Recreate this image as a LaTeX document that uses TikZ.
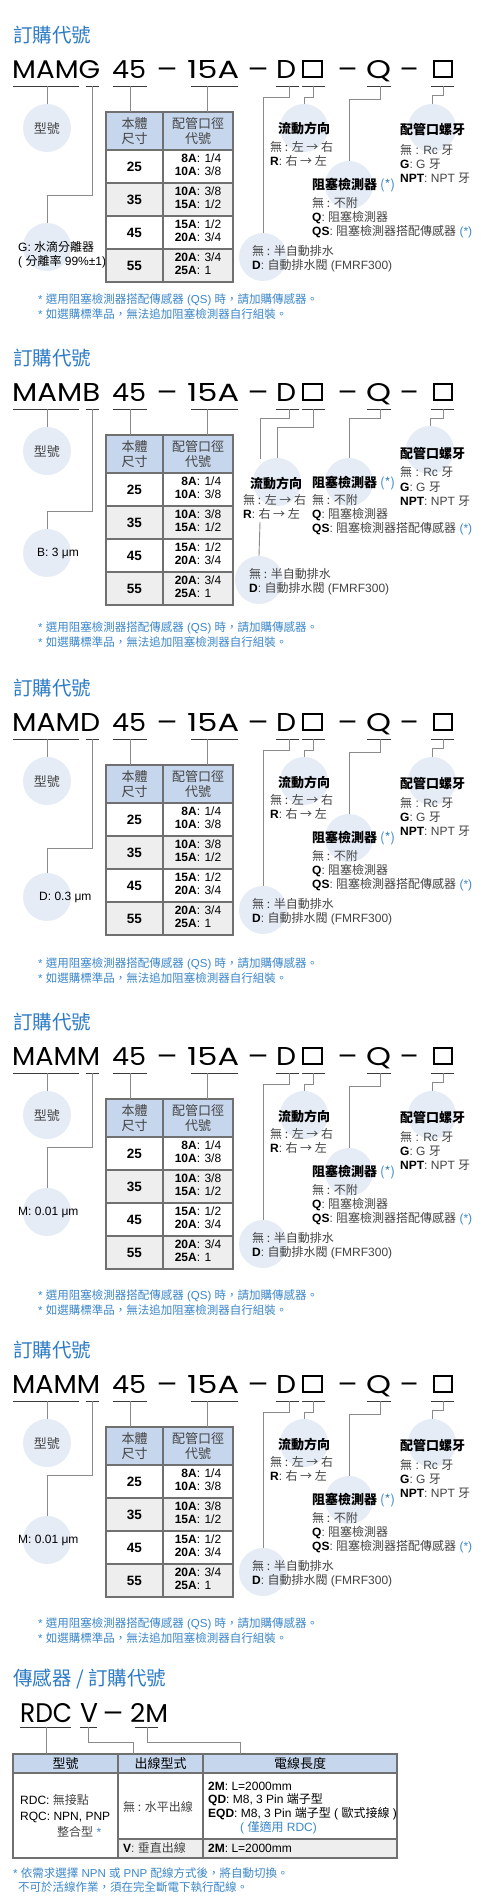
\documentclass[tikz,border=0pt]{standalone}
\usepackage{fontspec}
\setmainfont{Liberation Sans}
\newfontfamily\cjk{Noto Sans CJK TC}
\newfontfamily\codefont{Poppins}
\newcommand\zh[1]{{\cjk #1}}
\newcommand\kb[1]{\textcolor{black}{\bfseries #1}}
\newcommand\fitw[3]{\resizebox{#1pt}{#2pt}{#3}}
\newcommand\dashw[1]{\resizebox{#1pt}{\height}{—}}
\definecolor{ttlblue}{HTML}{2C7BC4}
\definecolor{noteblue}{HTML}{3C87C9}
\definecolor{bubble}{HTML}{E6ECF6}
\definecolor{hdfill}{HTML}{C6D6EC}
\definecolor{rowgray}{HTML}{EEEEEE}
\definecolor{lgray}{HTML}{8A8A8A}
\definecolor{ugray}{HTML}{3A3A3A}
\definecolor{tgray}{HTML}{444444}
\definecolor{tborder}{HTML}{707070}
\tikzset{
  ttl/.style={anchor=west, inner sep=0, text=ttlblue, font=\cjk\fontsize{19.5}{22}\selectfont},
  code/.style={anchor=base west, inner sep=0, font=\codefont\fontsize{26}{28}\selectfont},
  codebox/.style={draw=black, line width=1.9pt, minimum width=18.5pt, minimum height=16.5pt, inner sep=0},
  uline/.style={draw=ugray, line width=0.9pt},
  conn/.style={draw=lgray, line width=0.9pt},
  bub/.style={circle, fill=bubble, minimum size=48pt, inner sep=0},
  lbl/.style={anchor=west, inner sep=0, align=left, text=tgray, font=\fontsize{12}{14.2}\selectfont},
  hd/.style={inner sep=0, text=black, font=\cjk\bfseries\fontsize{13}{15}\selectfont},
  hdw/.style={hd, anchor=west},
  note/.style={anchor=west, inner sep=0, align=left, text=noteblue, font=\fontsize{11.5}{14}\selectfont},
  cell/.style={inner sep=0, text=black, font=\fontsize{12}{13.5}\selectfont},
  tbl/.style={draw=tborder, line width=1.2pt},
}
% left part: #1 pfx, #2 yoffset, #3 word, #4 label, #5 label x, #6 label y, #7 elbow y, #8 circle y, #9 foot y
\newcommand\leftpart[9]{%
\begin{scope}[yshift=-#2pt]
\node[ttl] (#1title) at (13,35) {訂購代號};
\node[code] (#1w) at (12,78) {\fitw{88}{18}{#3}};
\node[code] (#1n) at (112,78) {\fitw{34}{18}{45}};
\node[code] (#1da) at (157,78) {\dashw{20}};
\node[code] (#1s) at (187,78) {\fitw{52}{18}{15A}};
\node[code] (#1db) at (248,78) {\dashw{20}};
\node[code] (#1D) at (276,78) {\fitw{20}{18}{D}};
\node[codebox] (#1b1) at (312.5,69) {};
\node[code] (#1dc) at (338,78) {\dashw{19}};
\node[code] (#1Q) at (366,78) {\fitw{25}{18}{Q}};
\node[code] (#1dd) at (400,78) {\dashw{18}};
\node[codebox] (#1b2) at (443,69) {};
\foreach \a/\b in {13/79,86/99,113/147,191/238,276/299,302/325,367/391,431/454}
  \draw[uline] (\a,86) -- (\b,86);
\node[bub] (#1mb) at (47,128) {};
\node[bub] (#1sb) at (47,#8) {};
\draw[conn] (47,86) -- (#1mb.north);
\draw[conn] (92,86) |- (47,#7) -- (#1sb.north);
\node[inner sep=0, text=tgray, font=\cjk\fontsize{13}{15}\selectfont] (#1mt) at (47,129) {型號};
\node[lbl, text=black] (#1st) at (#5,#6) {#4};
% table
\fill[hdfill] (106,112) rectangle (233,150);
\fill[rowgray] (106,183) rectangle (233,216);
\fill[rowgray] (106,249) rectangle (233,282);
\draw[tbl] (106,112) rectangle (233,282);
\draw[tbl] (163,112) -- (163,282);
\foreach \y in {150,183,216,249} \draw[tbl] (106,\y) -- (233,\y);
\coordinate (#1tA) at (130,112);
\coordinate (#1tB) at (207,112);
\draw[conn] (130,86) -- (#1tA);
\draw[conn] (207,86) -- (#1tB);
\node[cell, align=center, text=tgray, font=\cjk\fontsize{13}{15}\selectfont] (#1h1) at (134.5,131) {本體\\尺寸};
\node[cell, align=center, text=tgray, font=\cjk\fontsize{13}{15}\selectfont] (#1h2) at (198,131) {配管口徑\\代號};
\node[cell, font=\bfseries\fontsize{13.5}{15}\selectfont] (#1r1) at (134.5,166.5) {25};
\node[cell, font=\bfseries\fontsize{13.5}{15}\selectfont] (#1r2) at (134.5,199.5) {35};
\node[cell, font=\bfseries\fontsize{13.5}{15}\selectfont] (#1r3) at (134.5,232.5) {45};
\node[cell, font=\bfseries\fontsize{13.5}{15}\selectfont] (#1r4) at (134.5,265.5) {55};
\node[cell] (#1p1) at (198,166.5) {\begin{tabular}{@{}r@{}l@{}}\textbf{8A}&: 1/4\\\textbf{10A}&: 3/8\end{tabular}};
\node[cell] (#1p2) at (198,199.5) {\begin{tabular}{@{}r@{}l@{}}\textbf{10A}&: 3/8\\\textbf{15A}&: 1/2\end{tabular}};
\node[cell] (#1p3) at (198,232.5) {\begin{tabular}{@{}r@{}l@{}}\textbf{15A}&: 1/2\\\textbf{20A}&: 3/4\end{tabular}};
\node[cell] (#1p4) at (198,265.5) {\begin{tabular}{@{}r@{}l@{}}\textbf{20A}&: 3/4\\\textbf{25A}&: 1\end{tabular}};
\node[note] (#1f1) at (38,#9) {* \zh{選用阻塞檢測器搭配傳感器} (QS) \zh{時，請加購傳感器。}};
\node[note] (#1f2) at (38,#9+14) {* \zh{如選購標準品，無法追加阻塞檢測器自行組裝。}};
\end{scope}}
\newcommand\flowtext{\zh{無 : 左 → 右}\\\kb{R}: \zh{右 → 左}}
\newcommand\threadtext{\zh{無} : Rc \zh{牙}\\\kb{G}: G \zh{牙}\\\kb{NPT}: NPT \zh{牙}}
\newcommand\blocktext{\zh{無 : 不附}\\\kb{Q}: \zh{阻塞檢測器}\\\kb{QS}: \zh{阻塞檢測器搭配傳感器} \textcolor{noteblue}{(*)}}
\newcommand\draintext{\zh{無 : 半自動排水}\\\kb{D}: \zh{自動排水閥} (FMRF300)}
\newcommand\blockhead{阻塞檢測器 {\fontseries{m}\selectfont\color{noteblue}(*)}}
\newcommand\rightstd[2]{%
\begin{scope}[yshift=-#2pt]
\node[bub] (#1fb) at (304,128) {};
\node[bub] (#1tb) at (432,128) {};
\node[bub] (#1kb) at (349,185) {};
\node[bub] (#1rb) at (263,257) {};
\draw[conn] (289,86) |- (263,97) -- (#1rb.north);
\draw[conn] (313,86) |- (304,97) -- (#1fb.north);
\draw[conn] (380,86) |- (349,99) -- (#1kb.north);
\draw[conn] (443,86) |- (432,95) -- (#1tb.north);
\node[hd] (#1fh) at (304,129) {流動方向};
\node[lbl] (#1ft) at (270,154) {\flowtext};
\node[hdw] (#1th) at (400,130) {配管口螺牙};
\node[lbl] (#1tt) at (400,164) {\threadtext};
\node[hdw] (#1kh) at (312,185) {\blockhead};
\node[lbl] (#1kt) at (312,217.5) {\blocktext};
\node[lbl] (#1rt) at (252,259) {\draintext};
\end{scope}}
\begin{document}
\begin{tikzpicture}[x=1pt,y=-1pt]
\fill[white] (0,0) rectangle (482,1899);
\useasboundingbox (0,0) rectangle (482,1899);
% block 1
\leftpart{a}{0}{MAMG}{G: \zh{水滴分離器}\\( \zh{分離率} 99\%±1)}{18}{254.5}{195}{247}{300}
\rightstd{a}{0}
% block 2
\leftpart{b}{323}{MAMB}{B: 3 μm}{37}{230}{188}{230}{305}
\begin{scope}[yshift=-323pt]
\node[bub] (bfb) at (277,159) {};
\node[bub] (bkb) at (349,159) {};
\node[bub] (btb) at (430,127) {};
\node[bub] (brb) at (259,257) {};
\draw[conn] (289,86) |- (260,95) -- (260,136);
\coordinate (bdl) at (260,199);
\draw[conn] (bdl) -- (brb.north);
\draw[conn] (313,86) |- (277,104) -- (bfb.north);
\draw[conn] (380,86) |- (349,95) -- (bkb.north);
\draw[conn] (443,86) |- (430,95) -- (btb.north);
\node[hd] (bfh) at (276,160) {流動方向};
\node[lbl] (bft) at (243,183.5) {\flowtext};
\node[hdw] (bkh) at (312,160) {\blockhead};
\node[lbl] (bkt) at (312,191.5) {\blocktext};
\node[hdw] (bth) at (400,130) {配管口螺牙};
\node[lbl] (btt) at (400,163.5) {\threadtext};
\node[lbl] (brt) at (249,258.5) {\draintext};
\end{scope}
% block 3
\leftpart{c}{653}{MAMD}{D: 0.3 μm}{39}{244}{195}{244}{311}
\rightstd{c}{653}
% block 4
\leftpart{d}{987}{MAMM}{M: 0.01 μm}{18}{225}{160}{225}{309}
\rightstd{d}{987}
% block 5
\leftpart{e}{1315}{MAMM}{M: 0.01 μm}{18}{225}{160}{225}{309}
\rightstd{e}{1315}
% sensor
\node[ttl] (stitle) at (13,1679) {傳感器 / 訂購代號};
\node[code] (sR) at (20,1722) {\fitw{52}{19}{RDC}};
\node[code] (sV) at (80,1722) {\fitw{18}{19}{V}};
\node[code] (sd) at (103,1722) {\dashw{20}};
\node[code] (s2) at (130,1722) {\fitw{38}{19}{2M}};
\foreach \a/\b in {20/71,80/97,135/158} \draw[uline] (\a,1727) -- (\b,1727);
\fill[hdfill] (13,1754) rectangle (397,1773);
\fill[rowgray] (118,1839) rectangle (397,1858);
\draw[tbl] (13,1754) rectangle (397,1858);
\draw[tbl] (118,1754) -- (118,1858);
\draw[tbl] (203,1754) -- (203,1858);
\draw[tbl] (13,1773) -- (397,1773);
\draw[tbl] (118,1839) -- (397,1839);
\coordinate (sc1) at (46,1754);
\coordinate (sc2) at (133,1754);
\coordinate (sc3) at (240,1754);
\draw[conn] (46,1727) -- (sc1);
\draw[conn] (88,1727) |- (133,1742) -- (sc2);
\draw[conn] (147,1727) |- (240,1742) -- (sc3);
\node[cell, font=\cjk\fontsize{13}{15}\selectfont] (sh1) at (65.5,1763.5) {型號};
\node[cell, font=\cjk\fontsize{13}{15}\selectfont] (sh2) at (160.5,1763.5) {出線型式};
\node[cell, font=\cjk\fontsize{13}{15}\selectfont] (sh3) at (300,1763.5) {電線長度};
\node[lbl, text=black] (sa1) at (20,1800) {RDC: \textcolor{tgray}{\zh{無接點}}};
\node[lbl, text=black] (sa2) at (20,1817) {RQC: NPN, PNP};
\node[lbl] (sa3) at (57,1832) {\zh{整合型} \textcolor{noteblue}{*}};
\node[lbl] (sb1) at (123,1807) {\zh{無 : 水平出線}};
\node[lbl] (sb2) at (123,1848) {\kb{V}: \zh{垂直出線}};
\node[lbl, text=black] (sc1t) at (208,1786) {\textbf{2M}: L=2000mm};
\node[lbl, text=black] (sc2t) at (208,1800) {\textbf{QD}: M8, 3 Pin \zh{端子型}};
\node[lbl, text=black] (sc3t) at (208,1814) {\textbf{EQD}: M8, 3 Pin \zh{端子型} ( \zh{歐式接線} )};
\node[lbl, text=noteblue] (sc4t) at (240,1828) {( \zh{僅適用} RDC)};
\node[lbl, text=black] (sc5t) at (208,1848) {\textbf{2M}: L=2000mm};
\node[note] (sf1) at (13,1873) {* \zh{依需求選擇} NPN \zh{或} PNP \zh{配線方式後，將自動切換。}};
\node[note] (sf2) at (18,1887) {\zh{不可於活線作業，須在完全斷電下執行配線。}};
\end{tikzpicture}
\end{document}
